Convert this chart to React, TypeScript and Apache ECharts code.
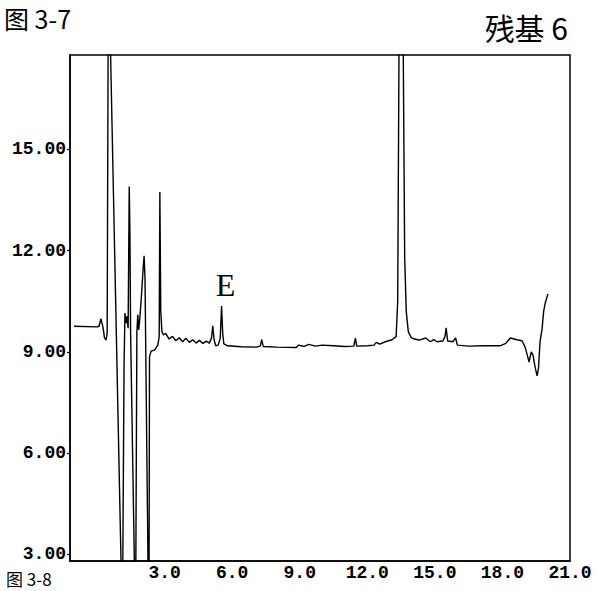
import React, { useEffect, useRef } from "react";
import * as echarts from "echarts";

// Retention time (min) of each sampled point of the trace
const timeMin = [
  -1.02, 0.0, 0.09, 0.17, 0.26, 0.33, 0.4, 0.45, 0.5, 0.55,
  1.08, 1.14, 1.2, 1.24, 1.29, 1.33, 1.38, 1.43, 1.46, 1.49,
  1.67, 1.72, 1.77, 1.81, 1.85, 1.9, 1.95, 2.0, 2.05, 2.09,
  2.13, 2.27, 2.31, 2.33, 2.4, 2.55, 2.7, 2.76, 2.79, 2.83,
  2.88, 2.95, 3.05, 3.2, 3.35, 3.5, 3.65, 3.8, 3.95, 4.1,
  4.25, 4.4, 4.55, 4.7, 4.85, 4.98, 5.08, 5.14, 5.2, 5.27,
  5.38, 5.47, 5.53, 5.58, 5.63, 5.8, 6.4, 7.1, 7.25, 7.31,
  7.38, 8.0, 8.85, 8.95, 9.2, 9.4, 9.7, 10.0, 10.5, 11.0,
  11.4, 11.47, 11.53, 12.0, 12.3, 12.4, 12.55, 12.8, 13.1, 13.28,
  13.35, 13.42, 13.58, 13.66, 13.73, 13.82, 13.95, 14.1, 14.3, 14.6,
  14.8, 14.95, 15.1, 15.35, 15.45, 15.5, 15.57, 15.8, 15.92, 16.0,
  16.5, 17.2, 17.9, 18.15, 18.35, 18.65, 18.87, 19.0, 19.09, 19.18,
  19.28, 19.36, 19.45, 19.54, 19.6, 19.67, 19.76, 19.83, 19.9, 20.02,
];

// Detector response read at each time above
const response = [
  9.76, 9.74, 9.76, 9.98, 9.75, 9.42, 9.35, 9.55, 19.5, 19.5,
  2.3, 2.3, 8.6, 10.15, 9.85, 10.05, 9.7, 13.9, 12.6, 9.6,
  2.3, 2.3, 9.6, 10.1, 9.65, 10.0, 10.45, 10.95, 11.5, 11.85,
  11.2, 2.3, 2.3, 8.85, 9.02, 9.05, 9.2, 9.45, 13.74, 10.2,
  9.6, 9.5, 9.55, 9.38, 9.46, 9.33, 9.42, 9.3, 9.4, 9.28,
  9.36, 9.26, 9.34, 9.25, 9.32, 9.26, 9.4, 9.77, 9.35, 9.18,
  9.2, 9.4, 10.36, 9.55, 9.24, 9.18, 9.15, 9.14, 9.18, 9.36,
  9.16, 9.14, 9.13, 9.2, 9.16, 9.22, 9.17, 9.2, 9.18, 9.16,
  9.17, 9.41, 9.17, 9.18, 9.2, 9.28, 9.23, 9.3, 9.36, 9.45,
  10.5, 19.5, 19.5, 11.8, 10.2, 9.6, 9.42, 9.38, 9.35, 9.41,
  9.3, 9.36, 9.3, 9.32, 9.45, 9.71, 9.32, 9.3, 9.41, 9.2,
  9.17, 9.18, 9.18, 9.25, 9.41, 9.36, 9.33, 9.15, 8.94, 8.7,
  9.0, 8.9, 8.55, 8.29, 8.5, 9.3, 9.68, 10.2, 10.45, 10.72,
];

const xTickValues = [3, 6, 9, 12, 15, 18, 21];
const yTickValues = [3, 6, 9, 12, 15];
const peakName = "E";
const peakPoint = [5.53, 10.36];
const figureCaptionTop = "图 3-7";
const figureCaptionBottom = "图 3-8";
const residueLabel = "残基 6";

export default function App() {
  const ref = useRef<HTMLDivElement>(null);

  useEffect(() => {
    if (!ref.current) return;
    const chart = echarts.init(ref.current, null, { renderer: "svg" });
    const data = timeMin.map((t, i) => [t, response[i]]);
    const axisFont = {
      fontFamily: "Liberation Mono",
      fontWeight: "bold" as const,
      fontSize: 18,
      color: "#000",
    };
    chart.setOption({
      animation: false,
      backgroundColor: "#fff",
      grid: {
        left: 70,
        right: 33,
        top: 55,
        bottom: 30,
        show: true,
        borderColor: "#000",
        borderWidth: 1.5,
        outerBoundsMode: "none",
        containLabel: false,
      },
      xAxis: {
        type: "value",
        min: -1.2,
        max: 21,
        axisLine: { show: true, onZero: false, lineStyle: { color: "#000", width: 1.5 } },
        axisTick: { show: false },
        splitLine: { show: false },
        axisLabel: {
          ...axisFont,
          customValues: xTickValues,
          formatter: (v: number) => v.toFixed(1),
          margin: 3,
        },
      },
      yAxis: {
        type: "value",
        min: 2.8,
        max: 17.8,
        axisLine: { show: true, onZero: false, lineStyle: { color: "#000", width: 1.5 } },
        axisTick: {
          show: true,
          customValues: yTickValues,
          length: 3,
          lineStyle: { color: "#000", width: 1.2 },
        },
        splitLine: { show: false },
        axisLabel: {
          ...axisFont,
          customValues: yTickValues,
          formatter: (v: number) => v.toFixed(2),
          margin: 4,
        },
      },
      series: [
        {
          type: "line",
          data,
          symbol: "none",
          showSymbol: false,
          clip: true,
          lineStyle: { color: "#000", width: 1.4 },
          markPoint: {
            symbol: "circle",
            symbolSize: 0,
            silent: true,
            data: [
              {
                coord: peakPoint,
                label: {
                  show: true,
                  formatter: peakName,
                  position: "inside",
                  offset: [4, -21],
                  fontFamily: "Liberation Serif",
                  fontSize: 32,
                  color: "#000",
                },
              },
            ],
          },
        },
      ],
      graphic: [
        {
          type: "text",
          x: 4,
          y: 18,
          style: {
            text: figureCaptionTop,
            align: "left",
            verticalAlign: "middle",
            fontFamily: "Noto Sans CJK SC",
            fontSize: 25,
            fill: "#000",
          },
        },
        {
          type: "text",
          x: 568,
          y: 27,
          style: {
            text: residueLabel,
            align: "right",
            verticalAlign: "middle",
            fontFamily: "Noto Sans CJK SC",
            fontSize: 30,
            fill: "#000",
          },
        },
        {
          type: "text",
          x: 6,
          y: 578,
          style: {
            text: figureCaptionBottom,
            align: "left",
            verticalAlign: "middle",
            fontFamily: "Noto Sans CJK SC",
            fontSize: 17,
            fill: "#000",
          },
        },
      ],
    });
    return () => chart.dispose();
  }, []);

  return (
    <div
      ref={ref}
      style={{
        position: "fixed",
        left: 0,
        top: 0,
        width: 603,
        height: 591,
        background: "#fff",
      }}
    />
  );
}
